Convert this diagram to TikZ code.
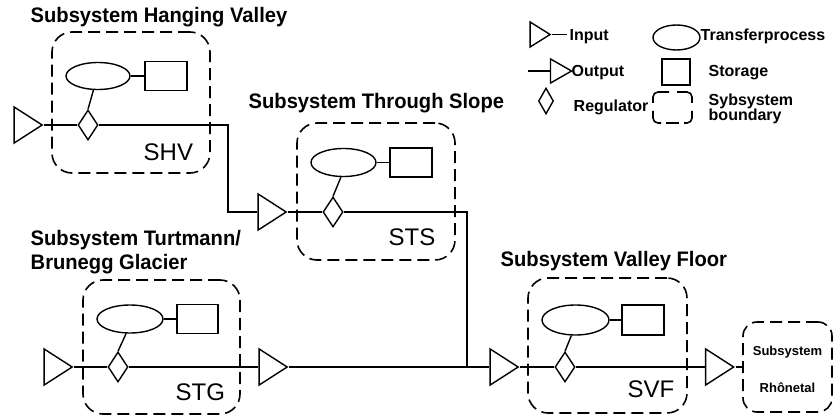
\documentclass[tikz,border=0pt]{standalone}
\usepackage{fontspec}
\setmainfont{Liberation Sans}
\newfontfamily\titlefont[FakeStretch=0.96]{Liberation Sans}
\usetikzlibrary{shapes.geometric}
\begin{document}
\begin{tikzpicture}[x=1pt,y=-1pt,line width=1.4pt,
  tri/.style={draw,isosceles triangle,isosceles triangle stretches,inner sep=0pt,minimum height=28pt,minimum width=36pt},
  smalltri/.style={draw,isosceles triangle,isosceles triangle stretches,inner sep=0pt,minimum height=20pt,minimum width=25pt},
  reg/.style={draw,diamond,inner sep=0pt,minimum width=20pt,minimum height=30pt},
  proc/.style={draw,ellipse,inner sep=0pt,minimum width=65pt,minimum height=28pt},
  stor/.style={draw,rectangle,inner sep=0pt,minimum width=42pt,minimum height=29pt},
  bound/.style={draw,rectangle,rounded corners=20pt,dash pattern=on 12pt off 6pt,line width=1.6pt,inner sep=0pt},
  ttl/.style={anchor=base west,inner sep=0pt,font=\titlefont\bfseries\fontsize{21}{25}\selectfont},
  lbl/.style={anchor=base west,inner sep=0pt,font=\fontsize{24}{28}\selectfont},
  leg/.style={anchor=base west,inner sep=0pt,font=\bfseries\fontsize{16}{18}\selectfont},
  rh/.style={anchor=base,inner sep=0pt,font=\bfseries\fontsize{13}{15}\selectfont}]
\useasboundingbox (0,0) rectangle (837,417);

% ---------- SHV ----------
\node[bound,minimum width=158pt,minimum height=141pt] (shvbox) at (131,102.5) {};
\node[ttl] (shvt) at (30,23) {Subsystem Hanging Valley};
\node[lbl] (shvl) at (143,160) {SHV};
\node[proc,minimum width=64pt,minimum height=27pt] (shvp) at (98,76) {};
\node[stor] (shvs) at (166,76) {};
\node[reg] (shvr) at (88,125) {};
\node[tri] (shvin) at (24,125) {};
\draw (shvp.east) -- (shvs.west);
\draw (shvr.north) -- (shvp.-108);
\draw (shvin.east) -- (shvr.west);
\coordinate (bend1) at (228,125);

% ---------- STS ----------
\node[bound,minimum width=158pt,minimum height=137pt] (stsbox) at (376,191.5) {};
\node[ttl] (stst) at (248,109) {Subsystem Through Slope};
\node[lbl] (stsl) at (388,245) {STS};
\node[proc] (stsp) at (343.5,162.5) {};
\node[stor] (stss) at (411,162.5) {};
\node[reg] (stsr) at (333,212) {};
\node[tri] (stsin) at (268,212) {};
\draw (stsp.east) -- (stss.west);
\draw (stsr.north) -- (stsp.-100);
\draw (shvr.east) -- (bend1) |- (stsin.west);
\draw (stsin.east) -- (stsr.west);
\coordinate (junc) at (467,367);
\draw (stsr.east) -| (junc);

% ---------- STG ----------
\node[bound,minimum width=157pt,minimum height=134pt] (stgbox) at (161.5,347) {};
\node[ttl] (stgt1) at (30,245) {Subsystem Turtmann/};
\node[ttl] (stgt2) at (30,269) {Brunegg Glacier};
\node[lbl] (stgl) at (175,400) {STG};
\node[proc,minimum width=66pt] (stgp) at (130,319) {};
\node[stor,minimum width=41pt] (stgs) at (197.5,319) {};
\node[reg] (stgr) at (118,367) {};
\node[tri] (stgin) at (54,367) {};
\node[tri] (stgout) at (269,367) {};
\draw (stgp.east) -- (stgs.west);
\draw (stgr.north) -- (stgp.-105);
\draw (stgin.east) -- (stgr.west);
\draw (stgr.east) -- (stgout.west);

% ---------- SVF ----------
\node[bound,minimum width=159pt,minimum height=135pt] (svfbox) at (607.5,345.5) {};
\node[ttl] (svft) at (500,266) {Subsystem Valley Floor};
\node[lbl] (svfl) at (627,397) {SVF};
\node[proc,minimum width=67pt,minimum height=30pt] (svfp) at (575.5,320) {};
\node[stor,minimum height=30pt] (svfs) at (643,320) {};
\node[reg] (svfr) at (565,367) {};
\node[tri] (svfin) at (500,367) {};
\node[tri] (svfout) at (715.5,367) {};
\draw (svfp.east) -- (svfs.west);
\draw (svfr.north) -- (svfp.-105);
\draw (stgout.east) -- (svfin.west);
\draw (svfin.east) -- (svfr.west);
\draw (svfr.east) -- (svfout.west);

% ---------- Rhonetal ----------
\node[bound,rounded corners=14pt,minimum width=89pt,minimum height=90pt] (rhone) at (787.5,367) {};
\node[rh] (rht1) at (787.5,355) {Subsystem};
\node[rh] (rht2) at (787.5,392) {Rhônetal};
\draw (svfout.east) -- (rhone.west);

% ---------- Legend ----------
\node[smalltri] (legin) at (537,34.5) {};
\coordinate (leginend) at (567,34.5);
\draw (legin.east) -- (leginend);
\node[leg] (legint) at (569,41) {Input};

\coordinate (legoutstart) at (528,71);
\node[smalltri,minimum height=21pt,minimum width=24pt] (legout) at (557.5,71) {};
\draw (legoutstart) -- (legout.west);
\node[leg] (legoutt) at (571,77) {Output};

\node[reg,minimum width=15pt,minimum height=26pt] (legreg) at (546,101) {};
\node[leg] (legregt) at (573,112) {Regulator};

\node[proc,minimum width=47pt,minimum height=25pt] (legproc) at (676.5,37.5) {};
\node[leg] (legproct) at (700,41) {Transferprocess};

\node[stor,minimum width=28pt,minimum height=26pt] (legstor) at (676,72) {};
\node[leg] (legstort) at (708,77) {Storage};

\begin{scope}[line width=1.6pt,rounded corners=5pt]
\draw (653,103) |- (669,92);
\draw (677,92) -| (692,103);
\draw (692,111) |- (684,123);
\draw (661,123) -| (653,111);
\draw (666,123) -- (679,123);
\end{scope}
\node[leg] (legbt1) at (708,106) {Sybsystem};
\node[leg] (legbt2) at (708,121) {boundary};
\end{tikzpicture}
\end{document}
